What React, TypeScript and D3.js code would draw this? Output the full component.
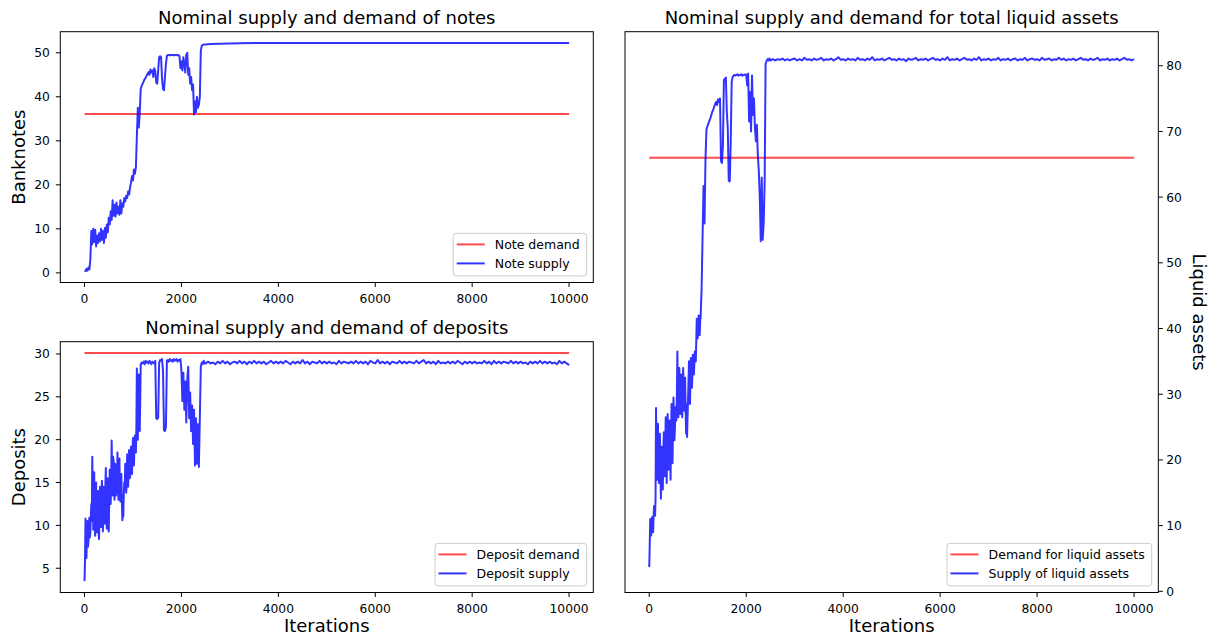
import React, { useEffect, useRef } from "react";
import * as d3 from "d3";

const WIDTH = 1212;
const HEIGHT = 643;
const FONT = "'DejaVu Sans', sans-serif";

// ---------- data ----------
const iterationTicks = [0, 2000, 4000, 6000, 8000, 10000];
const banknoteTicks = [0, 10, 20, 30, 40, 50];
const depositTicks = [5, 10, 15, 20, 25, 30];
const liquidTicks = [0, 10, 20, 30, 40, 50, 60, 70, 80];

const ITER_FIRST = 0;
const ITER_LAST = 10000;
const FINE_STEP = 10; // 0..1090 sampled every 10 iterations
const MID_START = 1100;
const MID_STEP = 20; // 1100..2480 sampled every 20 iterations
const LATE_START = 2500;
const LATE_STEP = 50; // 2500..10000 sampled every 50 iterations

const noteDemand = 36.1;
const depositDemand = 30.1;
const liquidDemand = 66.0;

// note supply sampled every 20 iterations from 0 to 2480
const noteSupplyEarly = [
  0.6, 0.4, 0.9, 0.5, 1.2, 0.8, 3.0, 9.5, 6.5, 10.0,
  7.0, 9.8, 6.0, 8.5, 6.8, 9.0, 7.2, 10.0, 7.5, 9.5,
  6.8, 10.2, 8.0, 11.0, 9.2, 12.5, 11.0, 14.0, 12.0, 16.5,
  13.0, 15.5, 12.8, 16.0, 13.5, 15.0, 13.2, 16.5, 13.5, 15.8,
  15.0, 17.0, 16.2, 17.5, 17.0, 18.5, 17.8, 19.5, 20.5, 22.0,
  21.0, 23.5, 22.5, 24.0, 31.0, 37.5, 33.0, 36.5, 41.8, 42.5,
  43.0, 43.5, 44.0, 44.3, 44.8, 45.2, 45.6, 45.0, 46.2, 45.5,
  46.0, 44.5, 46.5, 45.8, 43.2, 43.0, 46.0, 49.0, 49.2, 49.0,
  44.0, 41.8, 41.5, 44.5, 47.5, 49.3, 49.5, 49.5, 49.4, 49.5,
  49.5, 49.5, 49.4, 49.5, 49.5, 49.5, 49.4, 49.5, 49.2, 46.5,
  48.0, 46.0, 49.0, 47.5, 45.5, 49.5, 50.0, 45.0, 46.5, 43.0,
  44.5, 41.5, 42.8, 36.0, 39.0, 36.5, 40.0, 37.5, 38.2, 40.0,
  50.5, 51.6, 51.8, 51.9, 51.9,
];
const noteSupplyLate: [number, number][] = [
  [2500, 51.9], [2600, 52.0], [2800, 52.05], [3000, 52.1], [3200, 52.15],
  [3500, 52.2], [5000, 52.2], [7500, 52.2], [10000, 52.2],
];

const depositSupplyFine = [
  3.5, 6.0, 10.8, 8.5, 6.2, 9.8, 10.5, 7.5, 8.0, 10.2,
  10.9, 8.6, 9.2, 11.0, 12.5, 10.5, 18.0, 14.0, 9.5, 12.8,
  16.2, 10.5, 8.8, 13.2, 15.0, 9.2, 10.0, 12.5, 14.0, 9.0,
  8.4, 12.0, 14.5, 10.5, 9.8, 13.5, 15.2, 11.0, 9.3, 14.5,
  13.8, 11.5, 10.2, 14.8, 16.7, 11.2, 9.6, 14.0, 15.5, 10.8,
  9.3, 13.0, 16.5, 14.5, 12.5, 15.5, 19.9, 16.0, 13.5, 18.0,
  17.5, 14.2, 13.0, 17.2, 16.8, 13.5, 14.2, 15.2, 18.5, 14.5,
  13.0, 16.5, 17.8, 14.0, 12.8, 15.0, 16.0, 13.2, 10.6, 12.5,
  11.0, 13.5, 15.0, 14.2, 17.2, 16.0, 13.8, 15.0, 18.3, 16.5,
  14.5, 16.8, 18.8, 15.5, 15.6, 17.5, 19.2, 17.8, 16.0, 18.5,
  20.2, 18.2, 17.0, 19.5, 20.5, 19.0, 18.5, 21.5, 28.3, 24.0,
];
const depositSupplyMid = [
  20.0, 27.6, 21.0, 28.8, 29.0,
  28.9, 29.1, 28.8, 29.2, 29.0, 29.1, 28.9, 29.2, 29.0, 28.8,
  29.1, 29.0, 28.9, 29.2, 22.5, 22.4, 22.6, 29.0, 29.3, 29.2,
  29.4, 28.0, 21.1, 21.0, 21.5, 29.2, 29.3, 29.1, 29.4, 29.2,
  29.3, 29.1, 29.4, 29.2, 29.3, 29.4, 29.1, 29.3, 29.2, 29.4,
  28.0, 24.5, 27.8, 23.5, 26.8, 22.0, 27.0, 28.5, 22.5, 25.5,
  21.0, 24.0, 19.5, 23.5, 17.0, 22.5, 17.2, 21.8, 16.8, 22.7,
  28.5, 29.0, 28.8, 29.2, 28.9,
];
const depositSupplyLate = [
  28.9, 29.1, 28.9, 29.0, 28.8, 29.1, 28.9, 29.2, 28.9, 29.1,
  28.8, 29.0, 29.1, 28.9, 29.2, 28.9, 29.1, 28.8, 29.1, 28.9,
  29.2, 28.9, 29.1, 28.9, 29.1, 28.8, 29.0, 29.2, 28.9, 29.1,
  28.9, 29.1, 28.9, 29.2, 29.0, 28.8, 29.1, 28.9, 29.1, 28.9,
  29.3, 28.9, 29.1, 28.8, 29.1, 29.0, 28.9, 29.2, 28.9, 29.1,
  28.9, 29.1, 28.9, 29.0, 28.8, 29.2, 28.9, 29.1, 29.0, 28.9,
  29.1, 28.9, 29.2, 28.9, 29.1, 28.9, 29.1, 28.8, 29.2, 29.0,
  28.9, 29.3, 28.9, 29.1, 28.9, 29.1, 28.8, 29.1, 29.0, 28.9,
  29.2, 28.9, 29.1, 28.9, 29.1, 29.0, 28.9, 29.2, 28.9, 29.1,
  29.3, 28.9, 29.1, 28.9, 29.1, 28.8, 29.2, 28.9, 29.0, 28.9,
  29.1, 28.9, 29.1, 28.9, 29.2, 29.0, 28.8, 29.1, 28.9, 29.1,
  28.9, 29.1, 28.9, 29.0, 28.9, 29.2, 28.9, 29.1, 28.8, 29.2,
  28.9, 29.1, 28.9, 29.1, 29.0, 28.9, 29.2, 28.9, 29.1, 28.9,
  29.1, 28.9, 29.0, 28.8, 29.1, 28.9, 29.1, 28.9, 29.2, 28.9,
  29.1, 28.9, 29.1, 28.9, 29.0, 28.8, 29.2, 28.9, 29.1, 28.9,
  28.7,
];

const liquidSupplyFine = [
  3.7, 7.0, 11.0, 9.5, 8.5, 10.5, 11.3, 10.0, 9.0, 11.5,
  13.0, 12.0, 11.5, 14.0, 27.9, 20.0, 17.0, 21.5, 25.5, 18.5,
  16.5, 20.5, 24.0, 19.0, 14.1, 18.0, 22.0, 19.5, 15.5, 21.0,
  24.2, 20.0, 17.5, 22.0, 26.5, 21.5, 16.5, 22.5, 27.0, 21.0,
  18.5, 22.0, 26.0, 24.0, 17.0, 23.5, 28.5, 22.0, 19.5, 25.0,
  29.5, 26.5, 23.0, 25.0, 28.0, 27.0, 26.0, 30.0, 36.5, 31.0,
  26.5, 29.5, 34.0, 31.0, 27.0, 30.0, 33.0, 29.5, 26.5, 31.0,
  34.0, 30.5, 27.5, 29.0, 32.5, 28.0, 24.0, 28.5, 23.5, 26.5,
  29.0, 32.0, 35.0, 31.5, 28.5, 32.0, 35.5, 33.5, 31.0, 33.0,
  36.0, 35.5, 33.0, 34.5, 36.5, 35.5, 35.0, 38.0, 41.5, 40.0,
  38.5, 40.5, 42.0, 40.0, 39.0, 41.0, 41.8, 44.0, 46.0, 50.0,
];
const liquidSupplyMid = [
  54.0, 61.7, 56.0, 65.7, 70.3,
  70.8, 71.2, 71.6, 72.0, 72.5, 73.0, 73.3, 73.8, 74.2, 74.5,
  74.0, 74.9, 74.5, 75.0, 65.5, 65.2, 68.0, 77.8, 78.0, 78.2,
  73.0, 70.5, 62.5, 62.4, 68.0, 77.5, 78.3, 78.5, 78.6, 78.5,
  78.6, 78.7, 78.5, 78.6, 78.6, 78.7, 78.5, 78.6, 78.6, 78.7,
  78.6, 77.0, 78.8, 71.5, 76.0, 70.0, 78.5, 72.5, 75.0, 70.5,
  68.5, 71.0, 66.3, 64.0, 60.0, 53.3, 63.0, 53.5, 56.0, 62.0,
  80.3, 80.7, 81.0, 80.8, 81.1,
];
const liquidSupplyLate = [
  80.8, 81.0, 80.8, 81.0, 80.9, 81.1, 80.8, 81.0, 80.8, 81.0,
  81.1, 80.8, 81.0, 80.8, 81.2, 80.9, 81.0, 80.8, 81.1, 80.9,
  81.0, 81.2, 80.8, 81.0, 80.9, 81.1, 80.8, 81.0, 81.3, 80.9,
  81.0, 80.8, 81.1, 80.9, 81.0, 80.8, 81.2, 80.9, 81.0, 80.8,
  81.1, 80.9, 81.3, 80.8, 81.0, 80.9, 81.1, 80.8, 81.0, 81.2,
  80.9, 81.0, 80.8, 81.1, 80.9, 81.0, 80.7, 81.1, 80.9, 81.0,
  81.2, 80.8, 81.0, 80.9, 81.1, 80.8, 81.0, 81.2, 80.9, 81.0,
  80.8, 81.1, 80.9, 81.3, 80.8, 81.0, 80.9, 81.1, 80.8, 81.0,
  81.2, 80.9, 81.0, 80.8, 81.1, 80.9, 81.3, 80.8, 81.0, 80.9,
  81.1, 80.8, 81.0, 80.9, 81.2, 80.8, 81.0, 80.9, 81.1, 80.8,
  81.0, 81.1, 80.8, 81.0, 80.9, 81.2, 80.8, 81.0, 81.1, 80.9,
  81.0, 80.8, 81.2, 80.9, 81.0, 81.1, 80.8, 81.0, 80.9, 81.2,
  80.9, 81.1, 80.8, 81.0, 80.9, 81.1, 80.8, 81.0, 81.2, 80.9,
  81.0, 80.8, 81.1, 80.9, 81.0, 81.2, 80.8, 81.0, 80.9, 81.1,
  80.8, 81.0, 80.9, 81.1, 80.8, 81.0, 81.2, 80.9, 81.0, 80.8,
  81.0,
];

// ---------- helpers ----------
type Pt = [number, number];
const sampled = (start: number, step: number, values: number[]): Pt[] =>
  values.map((v, i) => [start + i * step, v] as Pt);

const noteSupply: Pt[] = [...sampled(ITER_FIRST, MID_STEP, noteSupplyEarly), ...noteSupplyLate];
const depositSupply: Pt[] = [
  ...sampled(ITER_FIRST, FINE_STEP, depositSupplyFine),
  ...sampled(MID_START, MID_STEP, depositSupplyMid),
  ...sampled(LATE_START, LATE_STEP, depositSupplyLate),
];
const liquidSupply: Pt[] = [
  ...sampled(ITER_FIRST, FINE_STEP, liquidSupplyFine),
  ...sampled(MID_START, MID_STEP, liquidSupplyMid),
  ...sampled(LATE_START, LATE_STEP, liquidSupplyLate),
];

interface Panel {
  left: number;
  right: number;
  top: number;
  bottom: number;
  title: string;
  ylabel: string;
  xlabel: string | null;
  yTicks: number[];
  ySide: "left" | "right";
  demand: number;
  supply: Pt[];
  legend: [string, string];
}

const panels: Panel[] = [
  {
    left: 60.3, right: 593.3, top: 31.7, bottom: 282.5,
    title: "Nominal supply and demand of notes", ylabel: "Banknotes", xlabel: null,
    yTicks: banknoteTicks, ySide: "left", demand: noteDemand, supply: noteSupply,
    legend: ["Note demand", "Note supply"],
  },
  {
    left: 60.3, right: 593.3, top: 341.7, bottom: 592.5,
    title: "Nominal supply and demand of deposits", ylabel: "Deposits", xlabel: "Iterations",
    yTicks: depositTicks, ySide: "left", demand: depositDemand, supply: depositSupply,
    legend: ["Deposit demand", "Deposit supply"],
  },
  {
    left: 625, right: 1158.3, top: 31.7, bottom: 592.5,
    title: "Nominal supply and demand for total liquid assets", ylabel: "Liquid assets", xlabel: "Iterations",
    yTicks: liquidTicks, ySide: "right", demand: liquidDemand, supply: liquidSupply,
    legend: ["Demand for liquid assets", "Supply of liquid assets"],
  },
];

const RED = "#ff0000";
const BLUE = "#0000ff";
const RED_OP = 0.7;
const BLUE_OP = 0.8;
const LW = 2;
const TICK_FS = 12.3;
const LEGEND_FS = 12.5;
const TITLE_FS = 18;
const LABEL_FS = 18;

function drawPanel(svg: d3.Selection<SVGSVGElement, unknown, null, undefined>, p: Panel) {
  const xs = [ITER_FIRST, ITER_LAST];
  const xPad = (xs[1] - xs[0]) * 0.05;
  const x = d3.scaleLinear().domain([xs[0] - xPad, xs[1] + xPad]).range([p.left, p.right]);
  const allY = [p.demand, ...p.supply.map((d) => d[1])];
  const [yMin, yMax] = d3.extent(allY) as [number, number];
  const yPad = (yMax - yMin) * 0.05;
  const y = d3.scaleLinear().domain([yMin - yPad, yMax + yPad]).range([p.bottom, p.top]);

  const g = svg.append("g");
  const line = d3.line<Pt>().x((d) => x(d[0])).y((d) => y(d[1]));

  g.append("path")
    .datum([[ITER_FIRST, p.demand], [ITER_LAST, p.demand]] as Pt[])
    .attr("d", line)
    .attr("fill", "none")
    .attr("stroke", RED)
    .attr("stroke-opacity", RED_OP)
    .attr("stroke-width", LW);

  g.append("path")
    .datum(p.supply)
    .attr("d", line)
    .attr("fill", "none")
    .attr("stroke", BLUE)
    .attr("stroke-opacity", BLUE_OP)
    .attr("stroke-width", LW)
    .attr("stroke-linejoin", "round");

  // spines
  g.append("rect")
    .attr("x", p.left)
    .attr("y", p.top)
    .attr("width", p.right - p.left)
    .attr("height", p.bottom - p.top)
    .attr("fill", "none")
    .attr("stroke", "#000")
    .attr("stroke-width", 1);

  // x ticks
  iterationTicks.forEach((t) => {
    const px = x(t);
    g.append("line")
      .attr("x1", px).attr("x2", px)
      .attr("y1", p.bottom).attr("y2", p.bottom + 4.5)
      .attr("stroke", "#000").attr("stroke-width", 1);
    g.append("text")
      .attr("x", px).attr("y", p.bottom + 20)
      .attr("text-anchor", "middle")
      .attr("font-family", FONT).attr("font-size", TICK_FS)
      .attr("fill", "#000")
      .text(String(t));
  });

  // y ticks
  p.yTicks.forEach((t) => {
    const py = y(t);
    const edge = p.ySide === "left" ? p.left : p.right;
    const dir = p.ySide === "left" ? -1 : 1;
    g.append("line")
      .attr("x1", edge).attr("x2", edge + dir * 4.5)
      .attr("y1", py).attr("y2", py)
      .attr("stroke", "#000").attr("stroke-width", 1);
    g.append("text")
      .attr("x", edge + dir * (p.ySide === "left" ? 10.5 : 8))
      .attr("y", py)
      .attr("dy", "0.36em")
      .attr("text-anchor", p.ySide === "left" ? "end" : "start")
      .attr("font-family", FONT).attr("font-size", TICK_FS)
      .attr("fill", "#000")
      .text(String(t));
  });

  const cx = (p.left + p.right) / 2;
  const cy = (p.top + p.bottom) / 2;

  g.append("text")
    .attr("x", cx).attr("y", p.top - 7.5)
    .attr("text-anchor", "middle")
    .attr("font-family", FONT).attr("font-size", TITLE_FS)
    .attr("fill", "#000")
    .text(p.title);

  if (p.ySide === "left") {
    g.append("text")
      .attr("transform", `translate(${p.left - 35.5},${cy}) rotate(-90)`)
      .attr("text-anchor", "middle")
      .attr("font-family", FONT).attr("font-size", LABEL_FS)
      .attr("fill", "#000")
      .text(p.ylabel);
  } else {
    g.append("text")
      .attr("transform", `translate(${p.right + 35},${cy}) rotate(90)`)
      .attr("text-anchor", "middle")
      .attr("font-family", FONT).attr("font-size", LABEL_FS)
      .attr("fill", "#000")
      .text(p.ylabel);
  }

  if (p.xlabel) {
    g.append("text")
      .attr("x", cx).attr("y", p.bottom + 39.5)
      .attr("text-anchor", "middle")
      .attr("font-family", FONT).attr("font-size", LABEL_FS)
      .attr("fill", "#000")
      .text(p.xlabel);
  }

  // legend
  const lg = g.append("g");
  const box = lg.append("rect");
  const labels = p.legend.map((txt) =>
    lg.append("text")
      .attr("font-family", FONT).attr("font-size", LEGEND_FS)
      .attr("fill", "#000")
      .text(txt)
  );
  const maxW = d3.max(labels, (l) => (l.node() as SVGTextElement).getComputedTextLength()) || 0;
  const boxW = 41.6 + maxW + 7;
  const boxH = 42.5;
  const boxRight = p.right - 6.6;
  const boxBottom = p.bottom - 6.6;
  const bx = boxRight - boxW;
  const by = boxBottom - boxH;
  box
    .attr("x", bx).attr("y", by)
    .attr("width", boxW).attr("height", boxH)
    .attr("rx", 3).attr("ry", 3)
    .attr("fill", "#fff").attr("fill-opacity", 0.8)
    .attr("stroke", "#cccccc").attr("stroke-width", 1);
  const colors: [string, number][] = [[RED, RED_OP], [BLUE, BLUE_OP]];
  labels.forEach((l, i) => {
    const ry = by + 11 + i * 19;
    lg.append("line")
      .attr("x1", bx + 3.5).attr("x2", bx + 31.5)
      .attr("y1", ry).attr("y2", ry)
      .attr("stroke", colors[i][0]).attr("stroke-opacity", colors[i][1])
      .attr("stroke-width", LW);
    l.attr("x", bx + 41.6).attr("y", ry).attr("dy", "0.36em");
  });
}

export default function App() {
  const ref = useRef<SVGSVGElement>(null);
  useEffect(() => {
    document.body.style.margin = "0";
    if (!ref.current) return;
    const svg = d3.select(ref.current);
    svg.selectAll("*").remove();
    panels.forEach((p) => drawPanel(svg, p));
  }, []);
  return (
    <svg
      ref={ref}
      width={WIDTH}
      height={HEIGHT}
      style={{ display: "block", background: "#ffffff" }}
    />
  );
}
